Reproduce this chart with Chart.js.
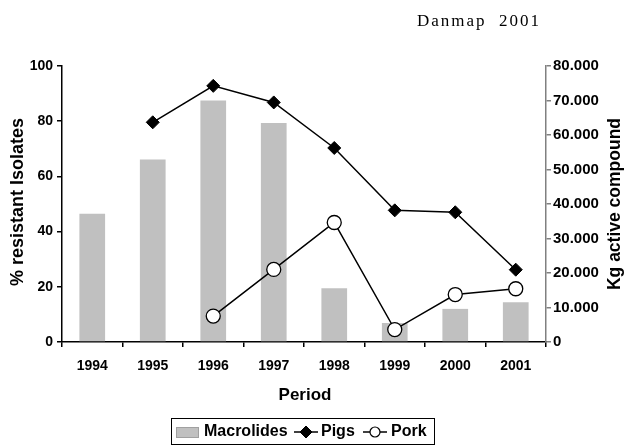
<!DOCTYPE html>
<html>
<head>
  <title>Danmap 2001 - Macrolides</title>
  <script src="https://cdn.jsdelivr.net/npm/chart.js"></script>
  <style>
    body { margin: 0; background: #fff; }
  </style>
</head>
<body>
  <canvas id="myChart" width="624" height="445"></canvas>

  <script>
    // data
    const years = ['1994', '1995', '1996', '1997', '1998', '1999', '2000', '2001'];
    const macrolidesKg = [37200, 52900, 70000, 63500, 15600, 5500, 9600, 11500];
    const pigsPct = [null, 79.6, 92.8, 86.8, 70.3, 47.7, 47.0, 26.2];
    const porkPct = [null, null, 9.4, 26.3, 43.3, 4.5, 17.2, 19.3];

    const SANS = '"Liberation Sans", Arial, sans-serif';

    // titles, legend box and the header are drawn by hand
    const extras = {
      id: 'extras',
      afterDraw(chart) {
        const ctx = chart.ctx;
        ctx.save();
        ctx.fillStyle = '#000';

        // header
        ctx.font = '17px "Liberation Serif", "Times New Roman", serif';
        ctx.textAlign = 'left';
        ctx.textBaseline = 'alphabetic';
        if ('letterSpacing' in ctx) ctx.letterSpacing = '2px';
        ctx.fillText('Danmap  2001', 417, 26);
        if ('letterSpacing' in ctx) ctx.letterSpacing = '0px';

        // axis titles
        ctx.font = 'bold 18px ' + SANS;
        ctx.textAlign = 'center';
        ctx.textBaseline = 'middle';
        ctx.save();
        ctx.translate(18, 202);
        ctx.rotate(-Math.PI / 2);
        ctx.fillText('% resistant Isolates', 0, 0);
        ctx.restore();
        ctx.save();
        ctx.font = 'bold 17.5px ' + SANS;
        ctx.translate(615, 204);
        ctx.rotate(-Math.PI / 2);
        ctx.fillText('Kg active compound', 0, 0);
        ctx.restore();

        ctx.font = 'bold 17px ' + SANS;
        ctx.fillText('Period', 305, 395);

        // legend
        const ds = chart.data.datasets;
        const ly = 432;
        ctx.strokeStyle = '#000';
        ctx.lineWidth = 1;
        ctx.strokeRect(171.5, 418.5, 263, 26);

        ctx.fillStyle = ds[2].backgroundColor;
        ctx.fillRect(176, 427, 23, 11);
        ctx.strokeStyle = '#a0a0a0';
        ctx.strokeRect(176.5, 427.5, 22, 10);

        ctx.fillStyle = '#000';
        ctx.font = 'bold 16px ' + SANS;
        ctx.textAlign = 'left';
        ctx.fillText(ds[2].label, 204, ly);

        // Pigs
        ctx.strokeStyle = '#000';
        ctx.lineWidth = 1.5;
        ctx.beginPath(); ctx.moveTo(294, ly); ctx.lineTo(318, ly); ctx.stroke();
        ctx.fillStyle = ds[0].pointBackgroundColor;
        ctx.lineWidth = 1;
        Chart.helpers.drawPoint(ctx, { pointStyle: 'rectRot', radius: 6, borderWidth: 1, rotation: 0 }, 306, ly);
        ctx.fillStyle = '#000';
        ctx.fillText(ds[0].label, 321, ly);
        // Pork
        ctx.lineWidth = 1.5;
        ctx.beginPath(); ctx.moveTo(363, ly); ctx.lineTo(387, ly); ctx.stroke();
        ctx.fillStyle = ds[1].pointBackgroundColor;
        ctx.lineWidth = 1.2;
        Chart.helpers.drawPoint(ctx, { pointStyle: 'circle', radius: 5, borderWidth: 1.2, rotation: 0 }, 375, ly);
        ctx.fillStyle = '#000';
        ctx.fillText(ds[1].label, 391, ly);

        ctx.restore();
      }
    };

    const tickFont = { family: SANS, size: 14, weight: 'bold' };

    const ctx = document.getElementById('myChart').getContext('2d');
    const myChart = new Chart(ctx, {
      type: 'bar',
      data: {
        labels: years,
        datasets: [{
          type: 'line',
          label: 'Pigs',
          data: pigsPct,
          yAxisID: 'y',
          borderColor: '#000',
          borderWidth: 1.5,
          pointStyle: 'rectRot',
          pointRadius: 6.5,
          pointBackgroundColor: '#000',
          pointBorderColor: '#000',
          pointBorderWidth: 1,
          order: 1
        }, {
          type: 'line',
          label: 'Pork',
          data: porkPct,
          yAxisID: 'y',
          borderColor: '#000',
          borderWidth: 1.5,
          pointStyle: 'circle',
          pointRadius: 7,
          pointBackgroundColor: '#fff',
          pointBorderColor: '#000',
          pointBorderWidth: 1.3,
          order: 2
        }, {
          label: 'Macrolides',
          data: macrolidesKg,
          yAxisID: 'y1',
          backgroundColor: '#c0c0c0',
          borderWidth: 0,
          barPercentage: 0.425,
          categoryPercentage: 1,
          order: 3
        }]
      },
      options: {
        responsive: false,
        animation: false,
        layout: { padding: { top: 66, left: 0, right: 0, bottom: 0 }, autoPadding: false },
        plugins: {
          legend: { display: false },
          tooltip: { enabled: false }
        },
        scales: {
          x: {
            offset: true,
            grid: { drawOnChartArea: false, drawTicks: true, tickLength: 5, color: '#000', lineWidth: 1.5, offset: true },
            border: { color: '#000', width: 1.5 },
            ticks: { color: '#000', font: tickFont, padding: 11, maxRotation: 0, autoSkip: false },
            afterFit(s) { s.height = 103; }
          },
          y: {
            position: 'left',
            min: 0,
            max: 100,
            grid: { drawOnChartArea: false, tickLength: 5, color: '#000', lineWidth: 1.5 },
            border: { color: '#000', width: 1.5 },
            ticks: { stepSize: 20, color: '#000', font: tickFont, padding: 4 },
            afterFit(s) { s.width = 62; }
          },
          y1: {
            position: 'right',
            min: 0,
            max: 80000,
            grid: { drawOnChartArea: false, tickLength: 5, color: '#808080', lineWidth: 1.5 },
            border: { color: '#808080', width: 1.5 },
            ticks: {
              stepSize: 10000,
              color: '#000',
              font: { family: SANS, size: 15, weight: 'bold' },
              padding: 2,
              callback: v => v === 0 ? '0' : v.toLocaleString('de-DE')
            },
            afterFit(s) { s.width = 78; }
          }
        }
      },
      plugins: [extras]
    });
  </script>
</body>
</html>
